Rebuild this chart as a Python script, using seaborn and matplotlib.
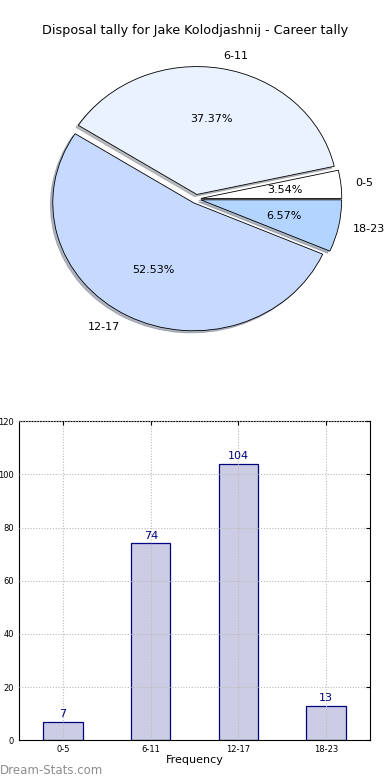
import matplotlib
matplotlib.use("Agg")
import matplotlib.pyplot as plt
import seaborn as sns

# Disposal tally per game bucket
categories = ["0-5", "6-11", "12-17", "18-23"]
counts = [7, 74, 104, 13]
pie_colors = ["#ffffff", "#eaf2ff", "#c6d9ff", "#b3d4ff"]

sns.set_style("white")
plt.rcParams["font.family"] = ["DejaVu Sans"]
plt.rcParams["text.color"] = "black"
plt.rcParams["axes.labelcolor"] = "black"
plt.rcParams["xtick.color"] = "black"
plt.rcParams["ytick.color"] = "black"

fig = plt.figure(figsize=(3.9, 7.8), dpi=100)

# Pie chart (slightly squashed, like the original)
ax1 = fig.add_axes([0.051, 0.540, 0.903, 0.41])
ax1.pie(counts, labels=categories, colors=pie_colors, autopct="%.2f%%",
        explode=[0.035] * 4, shadow={"ox": -0.012, "oy": -0.012, "shade": 0.5},
        startangle=0,
        wedgeprops={"edgecolor": "black", "linewidth": 0.6},
        textprops={"fontsize": 8})
ax1.set_aspect("auto")
fig.text(0.5, 0.961, "Disposal tally for Jake Kolodjashnij - Career tally",
         ha="center", va="center", fontsize=9.2)

# Bar chart
ax2 = fig.add_axes([0.049, 0.051, 0.9, 0.409])
sns.barplot(x=categories, y=counts, color="#ccccE4", edgecolor="#000080",
            linewidth=0.9, width=0.45, saturation=1, ax=ax2)
for i, v in enumerate(counts):
    ax2.text(i, v + 1, str(v), ha="center", va="bottom", color="#000080", fontsize=8)
ax2.set_ylim(0, 120)
ax2.set_xlim(-0.5, 3.5)
ax2.set_yticks(range(0, 121, 20))
ax2.grid(True, linestyle=(0, (1, 1.5)), color="#bbbbbb", linewidth=0.8)
ax2.set_axisbelow(False)
ax2.tick_params(axis="both", labelsize=6, direction="in", top=True, right=True, length=3)
ax2.set_xlabel("Frequency", fontsize=8, labelpad=1)
ax2.set_ylabel("")
for s in ax2.spines.values():
    s.set_visible(True)
    s.set_color("black")
    s.set_linewidth(0.8)

fig.text(0.0, 0.004, "Dream-Stats.com", fontsize=8.5, color="#8c8c8c",
         ha="left", va="bottom")

fig.savefig("out.png", dpi=100, facecolor="white")
